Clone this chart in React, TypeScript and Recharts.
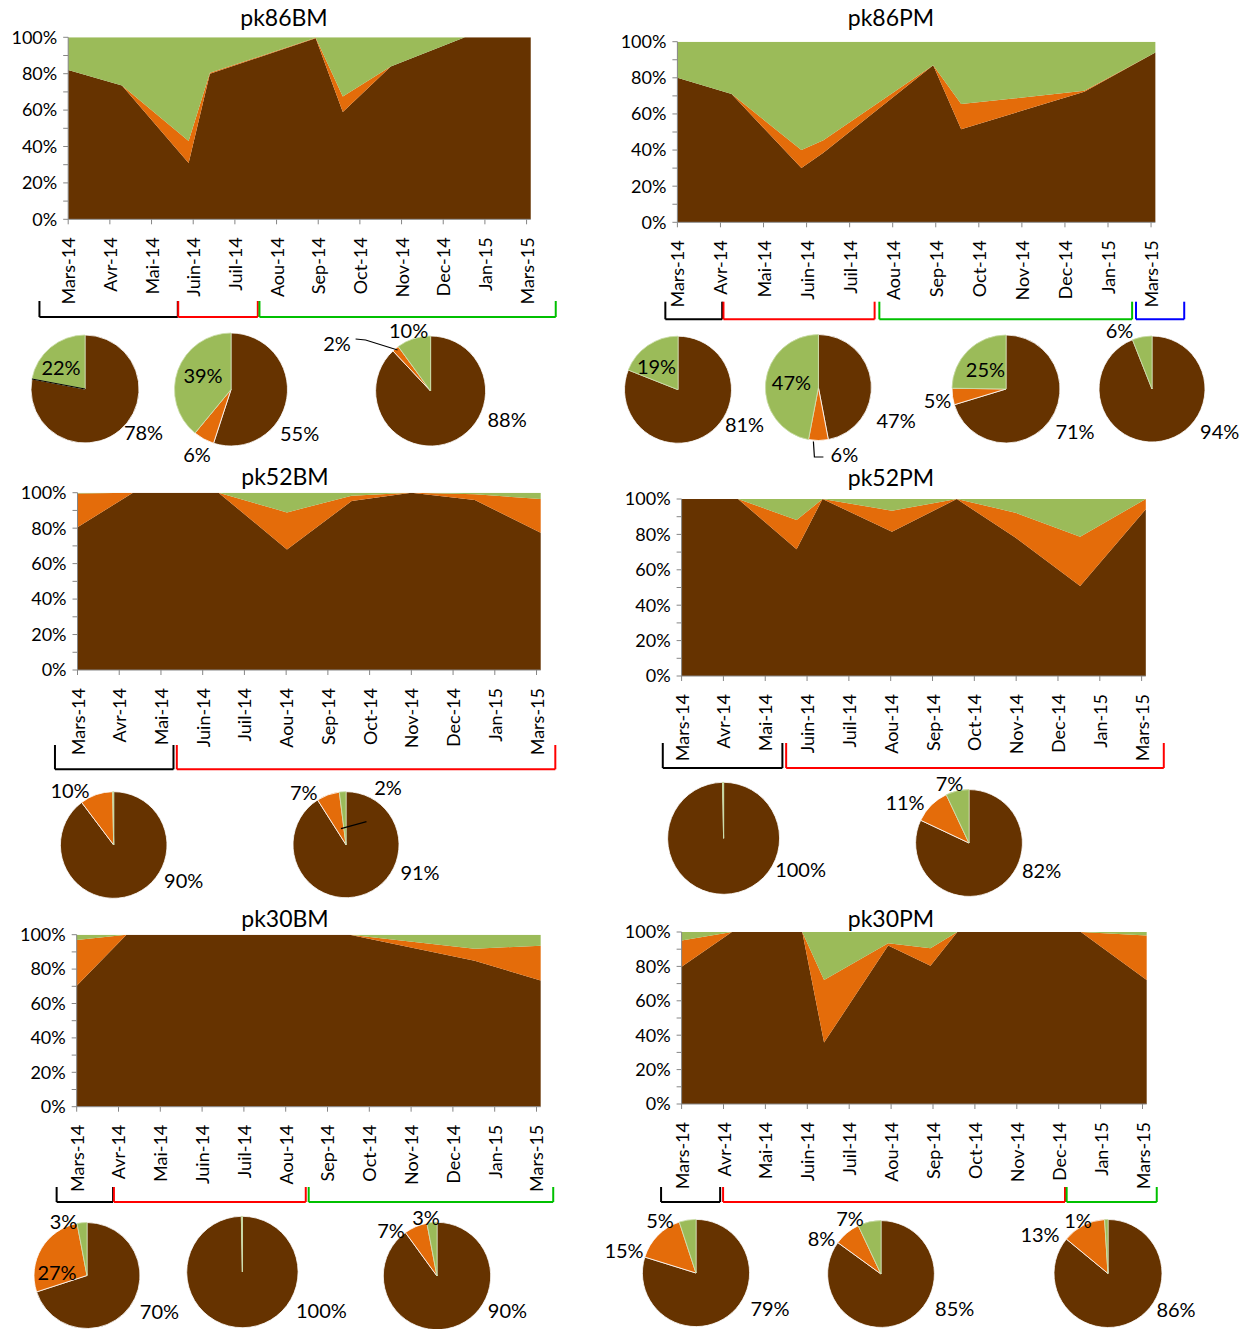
import React from "react";
import { AreaChart, Area, XAxis, YAxis, ReferenceLine, PieChart, Pie, Cell } from "recharts";

const BROWN = "#663300";
const ORANGE = "#E46C0A";
const GREEN = "#9BBB59";
const AXIS = "#868686";
const FONT = "Lato, 'Noto Sans', sans-serif";
const COLORS = [BROWN, ORANGE, GREEN];
const SLICE_STROKES = ["#ffffff", "#ffffff", "#c9dca6"];

const MONTHS = ["Mars-14", "Avr-14", "Mai-14", "Juin-14", "Juil-14", "Aou-14", "Sep-14", "Oct-14", "Nov-14", "Dec-14", "Jan-15", "Mars-15"];
const MONTH_TICKS = MONTHS.map((_, i) => i);
const Y_TICKS = [0, 10, 20, 30, 40, 50, 60, 70, 80, 90, 100];
const X_MAX = 11.1;

// x = position in months from Mars-14 (sampling dates), values in %
const pk86BM_x = [0, 1.29, 2.89, 3.4, 5.94, 6.59, 7.74, 9.52, 11.1];
const pk86BM_brown = [82, 73.5, 31, 80, 99.5, 59, 84, 100, 100];
const pk86BM_orange = [0, 0, 12, 0.5, 0.3, 8.5, 0, 0, 0];
const pk86BM_green = [18, 26.5, 57, 19.5, 0.2, 32.5, 16, 0, 0];
const pk86BM_pies = [[78, 0, 22], [55, 6, 39], [88, 2, 10]];

const pk86PM_x = [0, 1.26, 2.88, 3.39, 5.94, 6.59, 9.45, 11.1];
const pk86PM_brown = [80, 71, 30, 38.5, 87, 51.5, 72.3, 94];
const pk86PM_orange = [0, 0, 10, 7, 0, 14, 0.5, 0];
const pk86PM_green = [20, 29, 60, 54.5, 13, 34.5, 27.2, 6];
const pk86PM_pies = [[81, 0, 19], [47, 6, 47], [71, 5, 25], [94, 0, 6]];

const pk52BM_x = [0, 1.33, 3.38, 5.02, 6.57, 8.0, 9.52, 11.1];
const pk52BM_brown = [80.5, 100, 100, 68, 95.3, 100, 95.9, 77.4];
const pk52BM_orange = [19.1, 0, 0, 20.9, 3.0, 0, 3.2, 19];
const pk52BM_green = [0.4, 0, 0, 11.1, 1.7, 0, 0.9, 3.6];
const pk52BM_pies = [[90, 10, 0.3], [91, 7, 2]];

const pk52PM_x = [0, 1.35, 2.75, 3.37, 5.03, 6.58, 7.98, 9.53, 11.1];
const pk52PM_brown = [100, 100, 71.6, 100, 81.5, 100, 78.2, 50.8, 94.2];
const pk52PM_orange = [0, 0, 16.5, 0, 11.9, 0, 14.1, 27.9, 5.8];
const pk52PM_green = [0, 0, 11.9, 0, 6.6, 0, 7.7, 21.3, 0];
const pk52PM_pies = [[100, 0, 0.3], [82, 11, 7]];

const pk30BM_x = [0, 1.19, 6.53, 9.52, 11.1];
const pk30BM_brown = [70.3, 100, 100, 84.9, 73.3];
const pk30BM_orange = [26.6, 0, 0, 7.0, 20.3];
const pk30BM_green = [3.1, 0, 0, 8.1, 6.4];
const pk30BM_pies = [[70, 27, 3], [100, 0, 0.3], [90, 7, 3]];

const pk30PM_x = [0, 1.2, 2.88, 3.4, 4.93, 5.94, 6.58, 9.53, 11.1];
const pk30PM_brown = [79.8, 100, 100, 35.7, 92.1, 80.4, 100, 100, 72.1];
const pk30PM_orange = [15.2, 0, 0, 36.4, 1.3, 10.1, 0, 0, 25.8];
const pk30PM_green = [5, 0, 0, 27.9, 6.6, 9.5, 0, 0, 2.1];
const pk30PM_pies = [[79, 15, 5], [85, 8, 7], [86, 13, 1]];

// period brackets under the axis, in month units
const pk86BM_brackets = [
  { from: -0.69, to: 2.63, color: "#000000" },
  { from: 2.64, to: 4.55, color: "#FF0000" },
  { from: 4.59, to: 11.7, color: "#00C000" },
];
const pk86PM_brackets = [
  { from: -0.28, to: 1.04, color: "#000000" },
  { from: 1.07, to: 4.58, color: "#FF0000" },
  { from: 4.69, to: 10.56, color: "#00C000" },
  { from: 10.65, to: 11.77, color: "#0000FF" },
];
const pk52BM_brackets = [
  { from: -0.54, to: 2.3, color: "#000000" },
  { from: 2.38, to: 11.45, color: "#FF0000" },
];
const pk52PM_brackets = [
  { from: -0.45, to: 2.41, color: "#000000" },
  { from: 2.5, to: 11.53, color: "#FF0000" },
];
const pk30BM_brackets = [
  { from: -0.48, to: 0.87, color: "#000000" },
  { from: 0.89, to: 5.48, color: "#FF0000" },
  { from: 5.55, to: 11.4, color: "#00C000" },
];
const pk30PM_brackets = [
  { from: -0.49, to: 0.92, color: "#000000" },
  { from: 0.99, to: 9.15, color: "#FF0000" },
  { from: 9.19, to: 11.34, color: "#00C000" },
];

type PieLayout = {
  cx: number;
  cy: number;
  r: number;
  labels: (number[] | null)[];
  leader?: { slice: number; pts: number[][] };
};

const Y_AXIS_W = 60;
const X_AXIS_H = 85;

const panels = [
  {
    name: "pk86BM", x: pk86BM_x, brown: pk86BM_brown, orange: pk86BM_orange, green: pk86BM_green,
    brackets: pk86BM_brackets, pies: pk86BM_pies,
    box: { x: 0, y: 0, w: 600, h: 330 }, plot: { l: 68.2, t: 37.3, b: 219.3, unit: 41.67 },
    bracketY: [81.7, 97.7], title: { x: 284, y: 17 }, pieBox: { y: 318, h: 150 },
    pieLayout: [
      { cx: 85, cy: 389, r: 54, labels: [[58.5, 42.7], null, [-24, -22]], leader: { slice: 2, pts: [[-53, -10], [0, 0]] } },
      { cx: 231, cy: 389.5, r: 56.5, labels: [[68.6, 43], [-34, 64], [-28, -14.5]] },
      { cx: 430.6, cy: 391, r: 55, labels: [[76.5, 28], [-93.6, -48], [-22, -61]], leader: { slice: 1, pts: [[-75, -52], [-65, -51], [-33, -41]] } },
    ] as PieLayout[],
  },
  {
    name: "pk86PM", x: pk86PM_x, brown: pk86PM_brown, orange: pk86PM_orange, green: pk86PM_green,
    brackets: pk86PM_brackets, pies: pk86PM_pies,
    box: { x: 600, y: 0, w: 646, h: 330 }, plot: { l: 677.4, t: 41.7, b: 222.3, unit: 43.06 },
    bracketY: [79.4, 97], title: { x: 891, y: 17 }, pieBox: { y: 318, h: 150 },
    pieLayout: [
      { cx: 678, cy: 389.7, r: 53.5, labels: [[66.5, 34.6], null, [-21.5, -24]] },
      { cx: 818.4, cy: 387.5, r: 53, labels: [[77.7, 32], [26, 66], [-27, -6]], leader: { slice: 1, pts: [[-5, 54], [-4, 69.5], [5, 69.5]] } },
      { cx: 1006, cy: 389, r: 54, labels: [[69, 42], [-68.5, 11], [-20.6, -19.7]] },
      { cx: 1152, cy: 389, r: 53, labels: [[67.7, 42], null, [-32.4, -59]] },
    ] as PieLayout[],
  },
  {
    name: "pk52BM", x: pk52BM_x, brown: pk52BM_brown, orange: pk52BM_orange, green: pk52BM_green,
    brackets: pk52BM_brackets, pies: pk52BM_pies,
    box: { x: 0, y: 460, w: 600, h: 320 }, plot: { l: 77.5, t: 492.7, b: 670, unit: 41.73 },
    bracketY: [75, 99.3], title: { x: 285, y: 476 }, pieBox: { y: 772, h: 130 },
    pieLayout: [
      { cx: 113.7, cy: 845, r: 53.3, labels: [[70, 35], [-43.7, -55], null] },
      { cx: 346, cy: 844.7, r: 53, labels: [[74, 27], [-42.3, -53], [42, -58]], leader: { slice: 2, pts: [[-5, -16], [20.5, -23]] } },
    ] as PieLayout[],
  },
  {
    name: "pk52PM", x: pk52PM_x, brown: pk52PM_brown, orange: pk52PM_orange, green: pk52PM_green,
    brackets: pk52PM_brackets, pies: pk52PM_pies,
    box: { x: 600, y: 460, w: 646, h: 320 }, plot: { l: 681.6, t: 499, b: 676, unit: 41.82 },
    bracketY: [67, 92], title: { x: 891, y: 477 }, pieBox: { y: 772, h: 130 },
    pieLayout: [
      { cx: 723.6, cy: 838.3, r: 56, labels: [[77, 31], null, null] },
      { cx: 969, cy: 843, r: 53.4, labels: [[72.6, 27], [-64, -41], [-19.5, -60]] },
    ] as PieLayout[],
  },
  {
    name: "pk30BM", x: pk30BM_x, brown: pk30BM_brown, orange: pk30BM_orange, green: pk30BM_green,
    brackets: pk30BM_brackets, pies: pk30BM_pies,
    box: { x: 0, y: 900, w: 600, h: 310 }, plot: { l: 76.7, t: 934.7, b: 1106.7, unit: 41.8 },
    bracketY: [80.3, 95.3], title: { x: 285, y: 918 }, pieBox: { y: 1203, h: 126 },
    pieLayout: [
      { cx: 87, cy: 1275.5, r: 53, labels: [[72.4, 35], [-30, -4], [-23.4, -55]] },
      { cx: 242.4, cy: 1272, r: 55.7, labels: [[79, 38], null, null] },
      { cx: 437, cy: 1276, r: 53.7, labels: [[70.4, 34], [-46, -46], [-11, -58.7]] },
    ] as PieLayout[],
  },
  {
    name: "pk30PM", x: pk30PM_x, brown: pk30PM_brown, orange: pk30PM_orange, green: pk30PM_green,
    brackets: pk30PM_brackets, pies: pk30PM_pies,
    box: { x: 600, y: 900, w: 646, h: 310 }, plot: { l: 681.6, t: 932, b: 1104, unit: 41.9 },
    bracketY: [83, 98], title: { x: 891, y: 918 }, pieBox: { y: 1203, h: 126 },
    pieLayout: [
      { cx: 696, cy: 1273, r: 53.6, labels: [[74, 35], [-72, -23], [-36, -53]] },
      { cx: 881, cy: 1274, r: 53.4, labels: [[73.7, 34], [-59.5, -35.7], [-31, -55.7]] },
      { cx: 1108, cy: 1273.5, r: 54, labels: [[68, 35], [-68, -40], [-30, -53.5]] },
    ] as PieLayout[],
  },
];

function MonthTick({ x, y, payload }: any) {
  return (
    <text
      x={x}
      y={y}
      transform={`rotate(-90, ${x}, ${y})`}
      textAnchor="end"
      dominantBaseline="central"
      fontSize={18}
      fontFamily={FONT}
      fill="#000"
    >
      {MONTHS[payload.value]}
    </text>
  );
}

function AreaPanel({ p }: { p: (typeof panels)[number] }) {
  const plotR = p.plot.l + X_MAX * p.plot.unit;
  const plotH = p.plot.b - p.plot.t;
  const margin = {
    left: p.plot.l - p.box.x - Y_AXIS_W,
    right: p.box.x + p.box.w - plotR,
    top: p.plot.t - p.box.y,
    bottom: p.box.y + p.box.h - p.plot.b - X_AXIS_H,
  };
  const yTop = -(p.bracketY[0] / plotH) * 100;
  const yBot = -(p.bracketY[1] / plotH) * 100;
  const data = p.x.map((x, i) => ({ x, brown: p.brown[i], orange: p.orange[i], green: p.green[i] }));

  return (
    <div style={{ position: "absolute", left: p.box.x, top: p.box.y, width: p.box.w, height: p.box.h }}>
      <AreaChart width={p.box.w} height={p.box.h} data={data} margin={margin}>
        <XAxis
          dataKey="x"
          type="number"
          domain={[0, X_MAX]}
          ticks={MONTH_TICKS}
          interval={0}
          height={X_AXIS_H}
          tick={<MonthTick />}
          tickSize={5}
          tickMargin={13}
          stroke={AXIS}
        />
        <YAxis
          type="number"
          domain={[0, 100]}
          allowDataOverflow
          ticks={Y_TICKS}
          interval={0}
          width={Y_AXIS_W}
          tickFormatter={(v) => (v % 20 === 0 ? `${v}%` : "")}
          tick={{ fontSize: 18, fill: "#000", fontFamily: FONT }}
          tickSize={5}
          tickMargin={6}
          stroke={AXIS}
        />
        <Area type="linear" dataKey="brown" stackId="1" fill={BROWN} fillOpacity={1} stroke="none" isAnimationActive={false} />
        <Area type="linear" dataKey="orange" stackId="1" fill={ORANGE} fillOpacity={1} stroke="none" isAnimationActive={false} />
        <Area type="linear" dataKey="green" stackId="1" fill={GREEN} fillOpacity={1} stroke="none" isAnimationActive={false} />
        {p.brackets.map((b, i) => [
          <ReferenceLine key={`a${i}`} segment={[{ x: b.from, y: yTop }, { x: b.from, y: yBot }]} stroke={b.color} strokeWidth={2} ifOverflow="visible" />,
          <ReferenceLine key={`b${i}`} segment={[{ x: b.from, y: yBot }, { x: b.to, y: yBot }]} stroke={b.color} strokeWidth={2} ifOverflow="visible" />,
          <ReferenceLine key={`c${i}`} segment={[{ x: b.to, y: yBot }, { x: b.to, y: yTop }]} stroke={b.color} strokeWidth={2} ifOverflow="visible" />,
        ])}
      </AreaChart>
      <div
        style={{
          position: "absolute",
          left: p.title.x - p.box.x - 100,
          top: p.title.y - p.box.y - 11,
          width: 200,
          textAlign: "center",
          fontSize: 23,
          lineHeight: "22px",
          fontFamily: FONT,
          color: "#000",
        }}
      >
        {p.name}
      </div>
    </div>
  );
}

function makeLabel(lay: PieLayout, vals: number[], ox: number, oy: number) {
  return (props: any) => {
    const i = props.index;
    const v = vals[i];
    const off = lay.labels[i];
    const cx = lay.cx - ox;
    const cy = lay.cy - oy;
    if (!off || v < 1) return <g />;
    const leader = lay.leader && lay.leader.slice === i ? lay.leader.pts : null;
    return (
      <g>
        {leader && (
          <polyline
            points={leader.map((q) => `${cx + q[0]},${cy + q[1]}`).join(" ")}
            fill="none"
            stroke="#000"
            strokeWidth={1.2}
          />
        )}
        <text
          x={cx + off[0]}
          y={cy + off[1]}
          textAnchor="middle"
          dominantBaseline="central"
          fontSize={20}
          fontFamily={FONT}
          fill="#000"
        >
          {`${v}%`}
        </text>
      </g>
    );
  };
}

function PiePanel({ p }: { p: (typeof panels)[number] }) {
  const ox = p.box.x;
  const oy = p.pieBox.y;
  return (
    <div style={{ position: "absolute", left: ox, top: oy, width: p.box.w, height: p.pieBox.h }}>
      <PieChart width={p.box.w} height={p.pieBox.h} margin={{ top: 0, right: 0, bottom: 0, left: 0 }}>
        {p.pies.map((vals, k) => {
          const lay = p.pieLayout[k];
          return (
            <Pie
              key={k}
              data={vals.map((v, j) => ({ name: ["brown", "orange", "green"][j], value: v }))}
              dataKey="value"
              cx={lay.cx - ox}
              cy={lay.cy - oy}
              outerRadius={lay.r}
              startAngle={90}
              endAngle={-270}
              strokeWidth={0.8}
              labelLine={false}
              label={makeLabel(lay, vals, ox, oy)}
              isAnimationActive={false}
            >
              {vals.map((_, j) => (
                <Cell key={j} fill={COLORS[j]} stroke={SLICE_STROKES[j]} />
              ))}
            </Pie>
          );
        })}
      </PieChart>
    </div>
  );
}

export default function App() {
  return (
    <div style={{ position: "absolute", left: 0, top: 0, width: 1246, height: 1329, background: "#fff", fontFamily: FONT }}>
      {panels.map((p) => (
        <AreaPanel key={p.name} p={p} />
      ))}
      {panels.map((p) => (
        <PiePanel key={`pie-${p.name}`} p={p} />
      ))}
    </div>
  );
}
